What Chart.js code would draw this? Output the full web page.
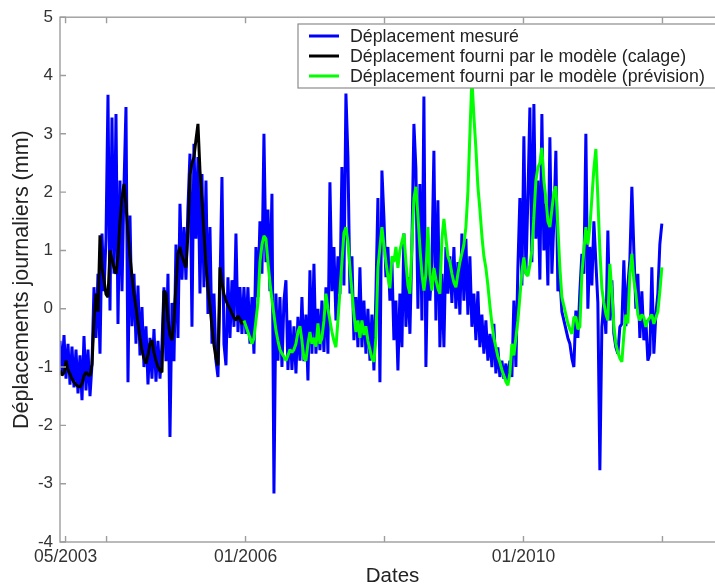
<!DOCTYPE html>
<html>
<head>
<meta charset="utf-8">
<script src="https://cdn.jsdelivr.net/npm/chart.js@4.4.0/dist/chart.umd.min.js"></script>
<style>
  html, body { margin: 0; padding: 0; background: #fff; overflow: hidden; }
  #wrap { width: 745px; height: 587px; }
</style>
</head>
<body>
<div id="wrap"><canvas id="deplChart" width="745" height="587"></canvas></div>
<script>
// Series are resampled on a common grid: one value every 10.5 days from May 2003
const sampleStart = 2003.33;       // decimal year of first sample
const sampleStepDays = 10.51;
const forecastStartIndex = 92;     // first sample of the forecast period (early 2006)

// Measured daily displacement (mm)
const measured = [
  -0.55, -1.1, -0.45, -1.2, -0.6, -1.3, -0.65, -1.35, -0.7, -1.45,
  -0.8, -1.57, -0.47, -1.4, -0.7, -1.5, -0.95, 0.37, -0.5, 0.6,
  -0.77, 1.29, 0.3, 1.2, 3.67, -0.03, 3.28, 0.6, 3.34, -0.26,
  2.2, 0.3, 2.1, 3.46, -1.26, 1.6, -0.3, 0.6, -0.6, 0.4,
  -0.8, 0.03, -1.0, -0.3, -1.3, -0.5, -1.2, -0.35, -1.25, -0.55,
  -1.2, -0.6, 0.37, -0.9, 0.6, -2.2, 0.1, -0.9, 1.1, -0.5,
  1.8, 0.5, 1.4, 0.5, 1.74, 2.66, -0.31, 2.83, 1.2, 2.6,
  0.26, 2.31, 0.37, 2.2, -0.09, 1.4, -0.6, 0.26, -0.89, -1.17,
  0.37, 2.26, -0.6, -0.97, 0.54, -0.5, 0.49, -0.31, 1.29, -0.4,
  0.37, -0.43, 0.37, -0.43, 0.37, -0.6, 0.2, -0.77, 1.06, 0.2,
  1.5, 0.6, 3.0, 0.8, 1.7, 0.3, 1.97, -3.17, 0.26, -0.89,
  0.2, -1.0, 0.14, 0.49, -1.05, -0.2, -1.05, -0.3, -1.11, -0.14,
  -0.89, 0.2, -0.9, -0.1, -1.23, 0.66, -0.77, 0.77, -0.77, 0.0,
  -0.71, 0.14, -0.74, 0.37, -0.77, 2.17, 0.3, 1.06, -0.2, 0.9,
  0.25, 2.43, 0.4, 3.69, 2.6, 0.26, 0.9, -0.54, 0.2, -0.66,
  0.71, -0.66, 0.14, -0.77, 0.0, -0.89, -0.1, -1.06, 0.26, 1.9,
  -1.26, 2.37, 1.57, 0.54, 1.06, 0.14, 0.8, -0.54, 0.14, -1.06,
  0.26, -0.66, 1.29, -0.31, 0.54, -0.43, 1.1, 3.17, 2.4, 0.0,
  2.14, -0.2, 3.64, -1.0, 1.06, 0.14, 0.8, 2.71, -0.2, 1.86,
  -0.66, 0.6, -0.66, 1.06, 0.26, 0.9, 0.1, 1.06, 0.0, 0.8,
  -0.1, 1.29, 0.14, 1.2, -0.1, 0.9, -0.31, 0.26, -0.54, 0.3,
  -0.66, -0.1, -0.77, -0.2, -0.89, -0.43, -1.0, -0.26, -1.11, -0.66,
  -1.17, -0.89, -1.2, -0.94, -1.23, -0.89, -1.17, 0.14, -1.0, 0.71,
  1.9, 0.4, 2.96, 0.6, 1.9, 3.45, 0.8, 3.51, 1.2, 2.2,
  0.5, 3.34, 1.0, 1.8, 0.4, 2.94, 0.6, 1.5, 2.71, 0.3,
  0.54, -0.05, -0.2, -0.35, -0.5, -0.6, -0.85, -1.0, -0.03, -0.5,
  0.3, 0.94, 0.6, 3.0, 0.0, 1.06, 0.4, 1.5, 0.8, 0.1,
  -2.77, -0.31, 0.14, -0.43, 1.34, -0.2, 0.49, -0.43, -0.66, -0.77,
  -0.31, -0.26, 0.83, -0.3, 0.4, 0.83, 2.09, 1.0, 0.0, 0.6,
  -0.5, 0.3, -0.54, -0.2, -0.89, -0.77, 0.71, -0.77, -0.1, 0.26,
  1.11, 1.46
];

// Model output over the calibration period (mm)
const calage = [
  -1.06, -1.14, -1.1, -0.89, -1.05, -1.12, -1.2, -1.26, -1.3, -1.33,
  -1.34, -1.28, -1.15, -1.09, -1.13, -1.15, -0.95, -0.2, 0.26, -0.05,
  1.26, 0.7, 0.5, 0.25, 0.2, 1.0, 0.85, 0.7, 0.6, 0.9,
  1.5, 1.9, 2.14, 1.8, 1.3, 0.9, 0.55, 0.25, 0.03, -0.25,
  -0.5, -0.72, -0.85, -0.94, -0.8, -0.6, -0.54, -0.75, -0.89, -1.0,
  -1.06, -1.09, 0.31, 0.26, -0.2, -0.45, -0.54, -0.2, 0.4, 0.95,
  1.06, 0.9, 0.8, 0.71, 1.3, 2.3, 2.5, 2.6, 2.9, 3.17,
  2.37, 1.86, 1.3, 0.75, 0.35, 0.05, -0.31, -0.62, -0.85, -0.97,
  0.71, 0.45, 0.25, 0.14, 0.06, 0.0, -0.08, -0.15, -0.2, -0.12,
  -0.18, -0.26, -0.2
];

// Model output over the forecast period (mm)
const prevision = [
  -0.2, -0.3, -0.4, -0.5, -0.6, -0.5, -0.2, 0.1, 0.8, 1.1,
  1.25, 1.2, 0.8, 0.45, 0.15, -0.1, -0.37, -0.55, -0.7, -0.77,
  -0.82, -0.89, -0.8, -0.7, -0.75, -0.7, -0.6, -0.4, -0.3, -0.55,
  -0.85, -0.89, -0.6, -0.4, -0.6, -0.5, -0.65, -0.25, -0.6, -0.5,
  -0.2, 0.26, 0.0, -0.2, -0.4, -0.55, -0.66, -0.2, 0.3, 0.8,
  1.3, 1.4, 1.15, 0.7, 0.3, -0.1, -0.4, -0.2, -0.5, -0.2,
  -0.45, -0.3, -0.55, -0.7, -0.85, -0.91, -0.5, 0.7, 1.06, 1.4,
  1.1, 0.8, 0.55, 0.35, 0.9, 0.8, 1.06, 0.7, 1.0, 1.15,
  1.29, 0.8, 0.4, 0.26, 1.1, 1.9, 2.09, 1.6, 1.05, 0.6,
  0.31, 0.6, 1.4, 0.6, 0.31, 0.7, 0.5, 0.35, 0.26, 1.2,
  1.54, 1.2, 0.9, 0.8, 0.6, 0.45, 0.37, 0.6, 0.8, 0.95,
  1.1, 1.4, 2.0, 3.0, 3.95, 3.3, 2.75, 2.1, 1.7, 1.25,
  0.9, 0.7, 0.4, 0.05, -0.25, -0.5, -0.66, -0.82, -0.92, -1.05,
  -1.15, -1.25, -1.31, -1.1, -0.6, -0.8, -0.5, -0.2, 0.2, 0.65,
  0.88, 0.6, 0.56, 0.75, 1.0, 1.57, 2.2, 2.42, 2.5, 2.76,
  2.2, 1.9, 1.5, 1.4, 1.7, 2.0, 2.1, 1.4, 0.7, 0.2,
  0.05, -0.1, -0.25, -0.35, -0.43, -0.15, -0.14, -0.35, -0.31, 0.6,
  1.0, 1.4, 1.1, 1.4, 1.9, 2.4, 2.74, 1.9, 1.0, 0.35,
  0.1, -0.09, -0.2, 0.77, 0.3, -0.3, -0.6, -0.75, -0.85, -0.91,
  -0.45, -0.1, -0.25, 0.6, 0.94, 0.5, 0.26, -0.1, -0.2, -0.1,
  -0.15, -0.31, -0.2, -0.15, -0.1, -0.26, -0.15, -0.05, 0.3, 0.71
];

// Date axis: tick positions (decimal years) and their labels
const xTickValues = [2003.41, 2004, 2006, 2008, 2010, 2012];
const xTickLabels = ['05/2003', '', '01/2006', '', '01/2010', ''];

const seriesLabels = [
  'Déplacement mesuré',
  'Déplacement fourni par le modèle (calage)',
  'Déplacement fourni par le modèle (prévision)'
];

function toPoints(values, firstIndex) {
  return values.map((v, i) => ({
    x: sampleStart + (firstIndex + i) * sampleStepDays / 365.25,
    y: v
  }));
}

const fontFamily = '"Liberation Sans", Arial, sans-serif';

// Axis box with inward tick marks
const framePlugin = {
  id: 'frame',
  afterDatasetsDraw(chart) {
    const { ctx, chartArea: a, scales } = chart;
    ctx.save();
    ctx.strokeStyle = '#9d9d9d';
    ctx.lineWidth = 1.4;
    ctx.strokeRect(a.left, a.top, a.right - a.left, a.bottom - a.top);
    ctx.beginPath();
    scales.x.ticks.forEach(t => {
      const px = scales.x.getPixelForValue(t.value);
      ctx.moveTo(px, a.bottom); ctx.lineTo(px, a.bottom - 6);
      ctx.moveTo(px, a.top); ctx.lineTo(px, a.top + 6);
    });
    scales.y.ticks.forEach(t => {
      const py = scales.y.getPixelForValue(t.value);
      ctx.moveTo(a.left, py); ctx.lineTo(a.left + 6, py);
      ctx.moveTo(a.right, py); ctx.lineTo(a.right - 6, py);
    });
    ctx.stroke();
    ctx.restore();
  }
};

// Boxed legend in the upper right corner of the plot
const boxLegend = {
  id: 'boxLegend',
  afterDraw(chart) {
    const { ctx } = chart;
    const left = 298, top = 24, right = 722, bottom = 88;
    ctx.save();
    ctx.fillStyle = '#fff';
    ctx.fillRect(left, top, right - left, bottom - top);
    ctx.strokeStyle = '#8c8c8c';
    ctx.lineWidth = 1.2;
    ctx.strokeRect(left, top, right - left, bottom - top);
    ctx.font = '17.8px ' + fontFamily;
    ctx.textBaseline = 'middle';
    chart.data.datasets.forEach((ds, i) => {
      const y = top + 12 + i * 20;
      ctx.strokeStyle = ds.borderColor;
      ctx.lineWidth = 3;
      ctx.beginPath();
      ctx.moveTo(309, y);
      ctx.lineTo(339, y);
      ctx.stroke();
      ctx.fillStyle = '#222';
      ctx.fillText(ds.label, 350, y + 1);
    });
    ctx.restore();
  }
};

const ctx = document.getElementById('deplChart').getContext('2d');
new Chart(ctx, {
  type: 'line',
  data: {
    datasets: [
      { label: seriesLabels[0], data: toPoints(measured, 0), borderColor: '#0000ff', borderWidth: 3, order: 3 },
      { label: seriesLabels[1], data: toPoints(calage, 0), borderColor: '#000000', borderWidth: 3, order: 2 },
      { label: seriesLabels[2], data: toPoints(prevision, forecastStartIndex), borderColor: '#00ff00', borderWidth: 3, order: 1 }
    ]
  },
  options: {
    responsive: false,
    devicePixelRatio: 1,
    animation: false,
    layout: { padding: { top: 16, right: 20, left: 0, bottom: 0 } },
    elements: {
      point: { radius: 0 },
      line: { tension: 0, borderJoinStyle: 'bevel', fill: false }
    },
    plugins: { legend: { display: false }, tooltip: { enabled: false } },
    scales: {
      x: {
        type: 'linear',
        min: 2003.33,
        max: 2012.9,
        grid: { display: false, drawTicks: false },
        border: { display: false },
        afterBuildTicks: s => { s.ticks = xTickValues.map(v => ({ value: v })); },
        afterFit: s => { s.height = 45; },
        ticks: {
          autoSkip: false, maxRotation: 0, padding: 5, color: '#333',
          font: { family: fontFamily, size: 17.5 },
          callback: (v, i) => xTickLabels[i]
        },
        title: {
          display: true, text: 'Dates', color: '#222', padding: 0,
          font: { family: fontFamily, size: 20.5, lineHeight: 1 }
        }
      },
      y: {
        min: -4,
        max: 5,
        grid: { display: false, drawTicks: false },
        border: { display: false },
        afterFit: s => { s.width = 60; },
        ticks: {
          stepSize: 1, padding: 7, color: '#333',
          font: { family: fontFamily, size: 17 }
        },
        title: {
          display: true, text: 'Déplacements journaliers (mm)', color: '#222',
          padding: { top: 11, bottom: 0 },
          font: { family: fontFamily, size: 21.5, lineHeight: 1 }
        }
      }
    }
  },
  plugins: [framePlugin, boxLegend]
});
</script>
</body>
</html>
